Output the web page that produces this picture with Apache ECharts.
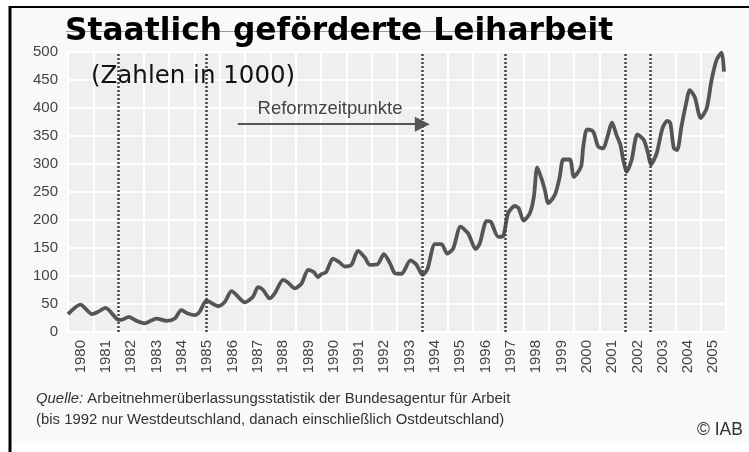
<!DOCTYPE html>
<html>
<head>
<meta charset="utf-8">
<script src="https://cdn.jsdelivr.net/npm/echarts@6/dist/echarts.min.js"></script>
<style>html,body{margin:0;padding:0;background:#fff}#c{width:749px;height:452px}</style>
</head>
<body>
<div id="c"></div>
<script>
// Category tick labels (years)
const years = ['1980','1981','1982','1983','1984','1985','1986','1987','1988','1989','1990','1991','1992','1993','1994','1995','1996','1997','1998','1999','2000','2001','2002','2003','2004','2005'];
// Time points (decimal years) and values (Leiharbeitnehmer in 1000)
const times = [1980.00,1980.49,1980.95,1981.19,1981.48,1981.94,1982.11,1982.40,1982.70,1983.03,1983.49,1983.89,1984.22,1984.48,1984.74,1985.00,1985.20,1985.47,1985.93,1986.20,1986.46,1986.99,1987.31,1987.51,1987.71,1987.97,1988.17,1988.50,1988.70,1988.96,1989.22,1989.49,1989.71,1989.88,1990.00,1990.20,1990.47,1990.71,1990.94,1991.20,1991.46,1991.73,1991.92,1992.23,1992.48,1992.72,1992.92,1993.18,1993.53,1993.77,1994.01,1994.20,1994.50,1994.76,1994.98,1995.22,1995.51,1995.81,1996.11,1996.27,1996.54,1996.70,1997.00,1997.19,1997.39,1997.66,1997.81,1998.00,1998.25,1998.41,1998.54,1998.73,1998.84,1998.98,1999.24,1999.43,1999.57,1999.83,1999.99,2000.27,2000.36,2000.51,2000.75,2000.95,2001.15,2001.28,2001.50,2001.67,2001.83,2001.94,2002.07,2002.27,2002.50,2002.75,2002.92,2003.03,2003.26,2003.49,2003.68,2003.80,2003.94,2004.07,2004.24,2004.41,2004.57,2004.77,2005.00,2005.24,2005.43,2005.63,2005.83,2005.92];
const values = [32,49,32,36,43,23,21.5,27,20,15.5,24,20,24,39,33,30,36,56,46,54,73,53,63,80,75,60,69,93,88,78,86,111,107,98,103,107,131,125,117,120,145,133,120,121,139,123,105,104,128,120,102,112,157,157,140,149,188,176,148,158,198,197,170,171,212,225,221,199,212,242,294,271,254,230,245,277,308,308,277,295,331,362,358,331,328,343,374,352,334,307,286,307,353,343,319,299,319,364,377,373,328,325,367,405,432,419,382,400,450,486,499,465];
// Reform dates (dotted vertical lines)
const reformDates = [1982.0, 1985.45, 1994.0, 1997.28, 2002.0, 2003.0];
// Arrow annotation: from / to (year, value level)
const arrowFrom = [1986.71, 371];
const arrowTo = [1994.0, 371];
const arrowLabel = 'Reformzeitpunkte';

const chart = echarts.init(document.getElementById('c'));
const lineData = times.map((t, i) => [t, values[i]]);

const markData = reformDates.map(d => ({ xAxis: d }));
markData.push([
  { coord: arrowFrom, symbol: 'none',
    lineStyle: { type: 'solid', color: '#555', width: 2 },
    label: { show: true, position: 'insideMiddleTop', formatter: arrowLabel, fontSize: 18.5, color: '#444', fontFamily: 'Liberation Sans', distance: 6 } },
  { coord: arrowTo, symbol: 'triangle', symbolSize: [15, 15] }
]);

chart.setOption({
  animation: false,
  backgroundColor: '#ffffff',
  graphic: [
    { type: 'rect', z: -10, shape: { x: 10, y: 7, width: 739, height: 436 }, style: { fill: '#f8f9f9' } },
    { type: 'line', shape: { x1: 10, y1: 6, x2: 10, y2: 452 }, style: { stroke: '#000', lineWidth: 3 } },
    { type: 'line', shape: { x1: 9, y1: 7, x2: 749, y2: 7 }, style: { stroke: '#000', lineWidth: 2 } },
    { type: 'line', z: 50, shape: { x1: 66, y1: 31.5, x2: 612, y2: 31.5 }, style: { stroke: '#9a9a9a', lineWidth: 1 } },
    { type: 'text', z: 100, style: { x: 65, y: 32, text: 'Staatlich geförderte Leiharbeit', font: 'bold 31.3px "DejaVu Sans"', fill: '#000', verticalAlign: 'middle' } },
    { type: 'text', z: 100, style: { x: 91, y: 77, text: '(Zahlen in 1000)', font: '24.5px "DejaVu Sans"', fill: '#111', verticalAlign: 'middle' } },
    { type: 'text', z: 100, style: { x: 36, y: 399, text: '{i|Quelle:} Arbeitnehmerüberlassungsstatistik der Bundesagentur für Arbeit', font: '14.9px "Liberation Sans"', fill: '#333', verticalAlign: 'middle', rich: { i: { fontStyle: 'italic', fontSize: 14.9, fontFamily: 'Liberation Sans', fill: '#333' } } } },
    { type: 'text', z: 100, style: { x: 36, y: 420, text: '(bis 1992 nur Westdeutschland, danach einschließlich Ostdeutschland)', font: '14.9px "Liberation Sans"', fill: '#333', verticalAlign: 'middle' } },
    { type: 'text', z: 100, style: { x: 697, y: 430, text: '© IAB', font: '17.5px "Liberation Sans"', fill: '#333', verticalAlign: 'middle' } }
  ],
  grid: { left: 68, right: 23, top: 52, bottom: 120, show: true, backgroundColor: '#efefef', borderWidth: 0 },
  xAxis: [
    { type: 'category', data: years, boundaryGap: true,
      axisLine: { show: false }, axisTick: { show: false },
      splitLine: { show: true, interval: 0, lineStyle: { color: '#ffffff', width: 2 } },
      axisLabel: { interval: 0, rotate: 90, fontSize: 15, color: '#444', margin: 8, fontFamily: 'Liberation Sans' } },
    { type: 'value', min: 1980, max: 2006, show: false }
  ],
  yAxis: {
    type: 'value', min: 0, max: 500, interval: 50,
    axisLine: { show: false }, axisTick: { show: false },
    splitLine: { lineStyle: { color: '#ffffff', width: 2 } },
    axisLabel: { fontSize: 15, color: '#444', margin: 10, fontFamily: 'Liberation Sans' }
  },
  series: [{
    type: 'line', xAxisIndex: 1, data: lineData, showSymbol: false, smooth: 0.25,
    lineStyle: { color: '#555', width: 3.8 },
    markLine: {
      silent: true, symbol: 'none', animation: false,
      label: { show: false },
      lineStyle: { type: [2, 2], color: '#444', width: 2.5 },
      data: markData
    }
  }]
});
</script>
</body>
</html>
